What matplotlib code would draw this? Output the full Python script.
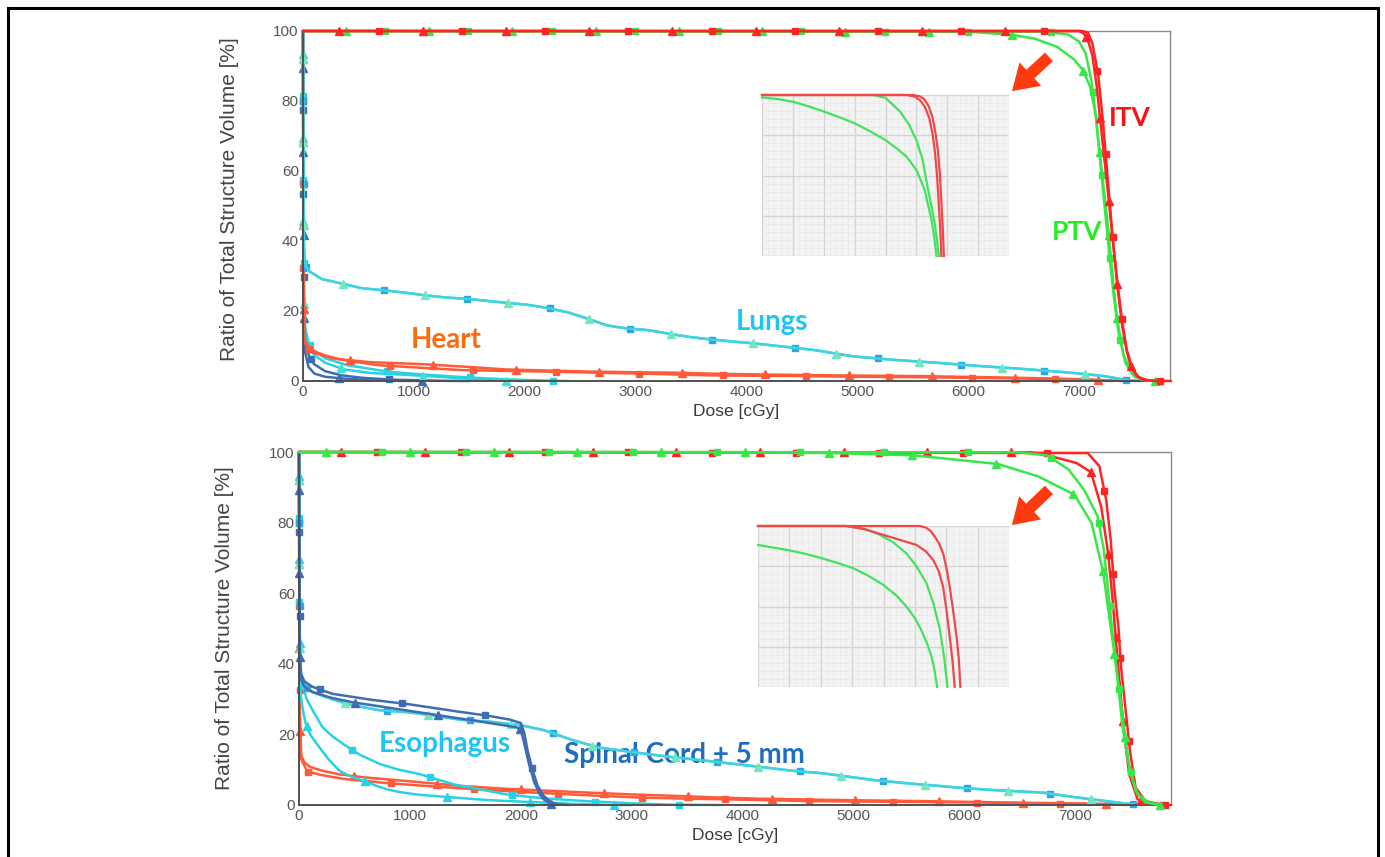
import matplotlib
matplotlib.use("Agg")
import numpy as np
import matplotlib.pyplot as plt
from matplotlib.patches import FancyArrowPatch, Rectangle
from matplotlib.ticker import MultipleLocator

# ---------------------------------------------------------------------------
# DVH data: dose [cGy], volume [%]
# Plan A curves carry triangle markers, plan B curves carry square markers
# ---------------------------------------------------------------------------

# --- upper panel (case 1) ---
c1_itv_a_dose = [0, 7000, 7040, 7076, 7120, 7160, 7190, 7230, 7270, 7310,
                 7346, 7390, 7430, 7468, 7520, 7580, 7650, 7750]
c1_itv_a_vol = [100, 100, 99.3, 97.8, 93, 84, 74.6, 63, 50.8, 38.5,
                26.9, 15.5, 8.5, 4.0, 1.5, 0.4, 0.05, 0]
c1_itv_b_dose = [0, 7030, 7080, 7120, 7173, 7210, 7242, 7275, 7305, 7350,
                 7391, 7430, 7480, 7540, 7620, 7700, 7830]
c1_itv_b_vol = [100, 100, 99.5, 96.5, 87.3, 76, 63.9, 51.5, 40.1, 27,
                16.5, 9, 3.5, 1, 0.2, 0.05, 0]
c1_ptv_a_dose = [0, 6000, 6375, 6600, 6800, 6950, 7034, 7100, 7150, 7183,
                 7230, 7266, 7300, 7339, 7400, 7480, 7560, 7676, 7800]
c1_ptv_a_vol = [100, 99.8, 99, 97.8, 95.5, 92, 88.9, 84, 76, 65.8,
                53, 42.5, 31, 18.6, 7.5, 2.0, 0.5, 0, 0]
c1_ptv_b_dose = [0, 6700, 6900, 7000, 7060, 7110, 7150, 7190, 7230, 7270,
                 7310, 7360, 7420, 7500, 7600, 7700]
c1_ptv_b_vol = [100, 99.8, 99, 97, 93.5, 86, 76, 63, 50, 37,
                25, 13, 5, 1.2, 0.2, 0]
c1_lung_dose = [0, 3, 8, 15, 30, 60, 100, 172, 300, 534, 700, 903, 1100,
                1276, 1500, 1655, 1850, 2017, 2200, 2390, 2550, 2741, 2900,
                3121, 3300, 3483, 3670, 3862, 4050, 4224, 4599, 4970, 5347,
                5719, 6093, 6468, 6838, 7050, 7225, 7350, 7450, 7550]
c1_lung_vol = [100, 70, 40, 34, 32.5, 31.3, 30.5, 29.1, 28.2, 26.5, 26.0,
               25.3, 24.5, 23.9, 23.4, 22.9, 22.3, 21.8, 20.9, 19.6, 18,
               15.9, 15.1, 14.5, 13.5, 12.6, 11.9, 11.3, 10.8, 10.2, 8.9,
               7.0, 6.0, 5.2, 4.3, 3.5, 2.6, 2.0, 1.4, 0.7, 0.2, 0]
c1_heart_a_dose = [0, 5, 15, 40, 100, 200, 338, 600, 1086, 1500, 1828, 2200,
                   2579, 3000, 3328, 3700, 4069, 4818, 5567, 6320, 7077,
                   7250, 7400]
c1_heart_a_vol = [100, 25, 12, 10, 8.5, 7.3, 6.2, 5.4, 4.8, 4.0, 3.3, 3.0,
                  2.7, 2.5, 2.4, 2.1, 1.9, 1.6, 1.4, 1.0, 0.5, 0.2, 0]
c1_heart_b_dose = [0, 5, 15, 40, 100, 250, 400, 683, 1000, 1434, 1800, 2183,
                   2600, 2931, 3300, 3683, 4100, 4500, 5000, 5500, 6000,
                   6500, 7000, 7300]
c1_heart_b_vol = [100, 22, 11, 9.5, 8, 6.6, 5.8, 4.5, 3.9, 3.1, 2.9, 2.7,
                  2.4, 2.2, 1.9, 1.6, 1.5, 1.4, 1.2, 1.1, 0.9, 0.7, 0.4, 0]
c1_cord_a_dose = [0, 3, 8, 20, 50, 100, 200, 350, 540, 800, 1266, 1500]
c1_cord_a_vol = [100, 60, 25, 12, 7.5, 4.8, 2.8, 1.6, 0.9, 0.4, 0.05, 0]
c1_cord_b_dose = [0, 3, 8, 20, 50, 103, 200, 400, 600, 845, 1100]
c1_cord_b_vol = [100, 55, 20, 8, 4.0, 2.1, 1.2, 0.6, 0.3, 0.05, 0]
c1_eso_a_dose = [0, 3, 8, 20, 50, 86, 200, 400, 783, 1100, 1528, 1900,
                 2283, 2400]
c1_eso_a_vol = [100, 60, 25, 15, 11, 9, 6.5, 4.5, 2.6, 1.8, 0.95, 0.4,
                0.05, 0]
c1_eso_b_dose = [0, 3, 8, 20, 50, 100, 200, 372, 600, 900, 1128, 1500,
                 1869, 2000]
c1_eso_b_vol = [100, 55, 22, 13, 9.5, 7.5, 5.2, 3.3, 2.3, 1.8, 1.4, 0.6,
                0.05, 0]

# --- lower panel (case 2) ---
c2_itv_a_dose = [0, 7110, 7214, 7276, 7317, 7345, 7386, 7410, 7455, 7490,
                 7541, 7628, 7766, 7850]
c2_itv_a_vol = [100, 99.7, 96, 86.4, 75, 62.7, 50.4, 39, 25.8, 15.4,
                4.9, 1.1, 0.2, 0]
c2_itv_b_dose = [0, 6600, 6731, 7007, 7138, 7231, 7293, 7334, 7369, 7403,
                 7438, 7483, 7559, 7697, 7800]
c2_itv_b_vol = [100, 99.9, 99.2, 96.9, 94.3, 84.5, 71.3, 58, 44.7, 32.4,
                20.1, 8.7, 1.6, 0.2, 0]
c2_ptv_a_dose = [0, 4000, 4800, 5541, 6300, 6662, 6990, 7145, 7248, 7300,
                 7352, 7403, 7448, 7490, 7559, 7662, 7766]
c2_ptv_a_vol = [100, 99.95, 99.7, 99.05, 96.6, 93.1, 87.9, 79.8, 66, 54.2,
                42.4, 30.5, 19.1, 9.7, 3.0, 0.7, 0]
c2_ptv_b_dose = [0, 6500, 6748, 6938, 7076, 7197, 7255, 7293, 7334, 7379,
                 7421, 7472, 7541, 7628, 7766]
c2_ptv_b_vol = [100, 99.9, 99, 95, 89.3, 81.9, 72.2, 60.9, 48.5, 35.3,
                22.9, 12.5, 4.0, 0.7, 0]
c2_lung_dose = [0, 3, 8, 15, 30, 60, 120, 248, 450, 714, 972, 1200, 1466,
                1721, 2000, 2207, 2455, 2700, 3000, 3300, 3679, 4100, 4448,
                4714, 5197, 5466, 5955, 6221, 6707, 6972, 7200, 7455, 7600]
c2_lung_vol = [100, 70, 42, 37, 35, 33.5, 32, 30.5, 28.5, 26.9, 26.3, 25.4,
               24.1, 23.6, 22.6, 21.2, 18.5, 16.3, 15.0, 13.8, 12.5, 11.0,
               9.7, 9.0, 7.0, 6.2, 4.9, 4.3, 3.5, 2.3, 1.4, 0.4, 0]
c2_cord_a_dose = [0, 3, 8, 20, 50, 120, 300, 655, 1000, 1403, 1700, 1900,
                  2000, 2030, 2060, 2100, 2150, 2200, 2260, 2330, 2431]
c2_cord_a_vol = [100, 70, 42, 37, 35, 33.5, 31.5, 29.8, 28.5, 26.6, 25.3,
                 24.2, 23.2, 20.5, 15.5, 10.5, 5.5, 2.8, 1.0, 0.2, 0]
c2_cord_b_dose = [0, 3, 8, 20, 50, 120, 300, 483, 800, 1221, 1600, 1962,
                  2000, 2030, 2070, 2120, 2170, 2210, 2255, 2300]
c2_cord_b_vol = [100, 70, 40, 35.5, 33.5, 32, 30.3, 29.1, 27.6, 25.6, 23.8,
                 22.0, 21.2, 17.5, 12, 6.5, 3.0, 1.5, 0.6, 0]
c2_eso_a_dose = [0, 3, 8, 30, 70, 122, 213, 300, 397, 550, 730, 900, 1093,
                 1400, 1869, 2200, 2583, 3000, 3334, 3800]
c2_eso_a_vol = [100, 60, 40, 34, 30, 26.9, 22, 19.5, 17.3, 14.2, 11.6, 10.0,
                8.7, 5.8, 3.0, 1.9, 1.1, 0.5, 0.1, 0]
c2_eso_b_dose = [0, 3, 8, 20, 40, 61, 100, 182, 270, 365, 450, 586, 700,
                 800, 900, 1050, 1317, 1700, 2076, 2500, 2824, 3000]
c2_eso_b_vol = [100, 55, 35, 30, 26, 23, 20, 16.4, 12.8, 9.7, 8.3, 6.8,
                5.4, 4.4, 3.7, 3.0, 2.3, 1.4, 0.85, 0.3, 0, 0]
c2_heart_a_dose = [0, 3, 8, 20, 50, 100, 200, 359, 600, 1110, 1500, 1859,
                   2200, 2621, 3000, 3376, 3800, 4138, 4893, 5645, 6403,
                   7152, 7400, 7550]
c2_heart_a_vol = [100, 50, 25, 14, 12, 10.8, 9.8, 8.7, 7.8, 6.4, 5.3, 4.6,
                  4.1, 3.5, 3.0, 2.6, 2.1, 1.8, 1.4, 1.1, 0.7, 0.4, 0.2, 0]
c2_heart_b_dose = [0, 3, 8, 20, 50, 76, 200, 400, 793, 1100, 1569, 2000,
                   2317, 2700, 3076, 3500, 3852, 4603, 5352, 6110, 6862,
                   7300, 7500]
c2_heart_b_vol = [100, 45, 22, 13, 11, 9.5, 8.5, 7.4, 6.2, 5.5, 4.5, 3.7,
                  3.2, 2.6, 2.1, 1.8, 1.6, 1.1, 0.9, 0.7, 0.4, 0.1, 0]

# --- zoomed shoulder views (insets), 6200-7000 cGy x 96-100 % ---
z1_itv_a_dose = [6200, 6690, 6710, 6725, 6740, 6752, 6762, 6770, 6776, 6782, 6786, 6789]
z1_itv_a_vol = [100, 100, 99.97, 99.9, 99.72, 99.45, 99.05, 98.6, 98.05, 97.2, 96.6, 96.0]
z1_itv_b_dose = [6200, 6670, 6695, 6712, 6728, 6742, 6752, 6760, 6767, 6774, 6778, 6781]
z1_itv_b_vol = [100, 100, 99.96, 99.87, 99.7, 99.42, 99.05, 98.6, 98.0, 97.1, 96.55, 96.0]
z1_ptv_b_dose = [6200, 6560, 6600, 6647, 6675, 6700, 6720, 6738, 6750, 6761, 6773]
z1_ptv_b_vol = [100, 100, 99.93, 99.59, 99.28, 98.88, 98.4, 97.64, 97.2, 96.73, 96.0]
z1_ptv_a_dose = [6200, 6250, 6301, 6350, 6400, 6450, 6499, 6550, 6600, 6640,
                 6668, 6700, 6727, 6749, 6758, 6765]
z1_ptv_a_vol = [99.94, 99.9, 99.83, 99.72, 99.59, 99.45, 99.3, 99.1, 98.88,
                98.65, 98.47, 98.14, 97.64, 96.9, 96.45, 96.0]

z2_itv_a_dose = [6200, 6716, 6735, 6750, 6765, 6778, 6790, 6800, 6811, 6822,
                 6833, 6840, 6845]
z2_itv_a_vol = [100, 100, 99.96, 99.88, 99.72, 99.55, 99.32, 98.98, 98.49,
                97.9, 97.25, 96.7, 96.0]
z2_itv_b_dose = [6200, 6480, 6540, 6599, 6650, 6705, 6735, 6759, 6776, 6790,
                 6801, 6811, 6820, 6827]
z2_itv_b_vol = [100, 100, 99.92, 99.78, 99.66, 99.53, 99.37, 99.15, 98.88,
                98.49, 97.9, 97.25, 96.65, 96.0]
z2_ptv_b_dose = [6200, 6480, 6540, 6589, 6630, 6673, 6705, 6737, 6760, 6780,
                 6793, 6804]
z2_ptv_b_vol = [100, 100, 99.93, 99.78, 99.6, 99.32, 99.0, 98.58, 98.05,
                97.42, 96.75, 96.0]
z2_ptv_a_dose = [6200, 6296, 6350, 6403, 6450, 6504, 6550, 6599, 6640, 6673,
                 6700, 6720, 6738, 6753, 6763, 6771]
z2_ptv_a_vol = [99.53, 99.4, 99.31, 99.2, 99.09, 98.95, 98.77, 98.54, 98.28,
                98.0, 97.71, 97.42, 97.1, 96.76, 96.4, 96.0]

yticks = [0, 20, 40, 60, 80, 100]
xticks = [0, 1000, 2000, 3000, 4000, 5000, 6000, 7000]

# colours
RED = "#FF2424"
GREEN = "#38E64A"
HEART = "#FF5A3A"
LUNG = "#3FD3E2"
ESO = "#26D2E4"
CORD = "#3E6DB3"
LABEL_FONT = ["Lato", "DejaVu Sans"]
AXIS_FONT = ["Liberation Sans", "DejaVu Sans"]

W, H = 1385, 857
fig = plt.figure(figsize=(W / 100, H / 100), dpi=100)


def px_axes(left, top, right, bottom):
    return fig.add_axes([left / W, 1 - bottom / H, (right - left) / W,
                         (bottom - top) / H])


def marks_along(ax, dose, vol, start, step):
    # evenly spaced markers along the drawn path (display distance),
    # the way the planning system puts its symbols on a DVH curve
    pts = ax.transData.transform(np.column_stack([dose, vol]))
    dist = np.concatenate([[0], np.cumsum(np.hypot(*np.diff(pts, axis=0).T))])
    diag = np.hypot(ax.bbox.width, ax.bbox.height)
    where = np.arange(start * diag, dist[-1], step * diag)
    xy = np.column_stack([np.interp(where, dist, pts[:, 0]),
                          np.interp(where, dist, pts[:, 1])])
    return ax.transData.inverted().transform(xy).T


def dvh(ax, dose, vol, color, marker, start, mcolor=None, zorder=2,
        lw=1.8):
    ax.plot(dose, vol, color=color, lw=lw, zorder=zorder, clip_on=False,
            solid_capstyle="round", solid_joinstyle="round")
    mx, my = marks_along(ax, dose, vol, start, 0.089)
    ax.plot(mx, my, ls="none", marker=marker,
            ms=5.5 if marker == "^" else 4.2,
            mfc=mcolor or color, mec=mcolor or color, zorder=zorder,
            clip_on=False)


def style_main(ax, xmax, ylab_x, ylab_y):
    ax.set_xlim(0, xmax)
    ax.set_ylim(0, 100)
    ax.set_xticks(xticks)
    ax.set_yticks(yticks)
    ax.tick_params(length=0, labelsize=11, labelcolor="#555555", pad=3)
    for lab in ax.get_xticklabels() + ax.get_yticklabels():
        lab.set_family(AXIS_FONT)
    for side in ("left", "bottom"):
        ax.spines[side].set_color("#505050")
        ax.spines[side].set_linewidth(1.4)
    for side in ("top", "right"):
        ax.spines[side].set_color("#8C8C8C")
        ax.spines[side].set_linewidth(1.0)
    ax.set_xlabel("Dose [cGy]", fontsize=12.5, color="#3A3A3A",
                  family=AXIS_FONT)
    ax.xaxis.set_label_coords(0.5, -0.066)
    ax.set_ylabel("Ratio of Total Structure Volume [%]", fontsize=15,
                  color="#444444", family=AXIS_FONT)
    ax.yaxis.set_label_coords(ylab_x, ylab_y)
    ax.set_facecolor("white")


def inset(left, top, right, bottom):
    ax = px_axes(left, top, right, bottom)
    ax.set_facecolor("#F3F3F3")
    ax.set_xlim(6200, 7000)
    ax.set_ylim(96, 100)
    ax.xaxis.set_major_locator(MultipleLocator(100))
    ax.xaxis.set_minor_locator(MultipleLocator(20))
    ax.yaxis.set_major_locator(MultipleLocator(1))
    ax.yaxis.set_minor_locator(MultipleLocator(0.2))
    ax.grid(which="major", color="#D3D3D3", lw=0.9)
    ax.grid(which="minor", color="#E7E7E7", lw=0.5)
    ax.set_axisbelow(True)
    ax.tick_params(which="both", length=0, labelbottom=False,
                   labelleft=False)
    for s in ax.spines.values():
        s.set_visible(False)
    return ax


def arrow(x0, y0, x1, y1):
    fig.add_artist(FancyArrowPatch(
        (x0 / W, 1 - y0 / H), (x1 / W, 1 - y1 / H),
        transform=fig.transFigure, color="#FF3A0E", lw=0,
        arrowstyle="simple,head_length=0.9,head_width=1.15,tail_width=0.42",
        mutation_scale=20))


# ---------------------------------------------------------------------------
# upper panel
# ---------------------------------------------------------------------------
ax1 = px_axes(303, 31, 1170, 381)
style_main(ax1, 7820, -0.0735, 0.52)

dvh(ax1, c1_cord_a_dose, c1_cord_a_vol, CORD, "s", 0.085)
dvh(ax1, c1_cord_b_dose, c1_cord_b_vol, CORD, "^", 0.04)
dvh(ax1, c1_eso_a_dose, c1_eso_a_vol, ESO, "s", 0.07)
dvh(ax1, c1_eso_b_dose, c1_eso_b_vol, ESO, "^", 0.025, mcolor="#3FE3D2")
dvh(ax1, c1_heart_a_dose, c1_heart_a_vol, HEART, "^", 0.03)
dvh(ax1, c1_heart_b_dose, c1_heart_b_vol, HEART, "s", 0.075)
dvh(ax1, c1_lung_dose, c1_lung_vol, LUNG, "s", 0.075, mcolor="#2AA6E0")
dvh(ax1, c1_lung_dose, c1_lung_vol, LUNG, "^", 0.03, mcolor="#72E6BE")
dvh(ax1, c1_ptv_a_dose, c1_ptv_a_vol, GREEN, "^", 0.046, zorder=3)
dvh(ax1, c1_ptv_b_dose, c1_ptv_b_vol, GREEN, "s", 0.088, zorder=3)
dvh(ax1, c1_itv_a_dose, c1_itv_a_vol, RED, "^", 0.039, zorder=4)
dvh(ax1, c1_itv_b_dose, c1_itv_b_vol, RED, "s", 0.081, zorder=4)

ax1.text(7457, 75, "ITV", color="#FF1010", fontsize=19, weight="bold",
         family=LABEL_FONT, ha="center", va="center")
ax1.text(6980, 42.6, "PTV", color="#22EE22", fontsize=19, weight="bold",
         family=LABEL_FONT, ha="center", va="center")
ax1.text(4229, 16.9, "Lungs", color="#1CC6F2", fontsize=20, weight="bold",
         family=LABEL_FONT, ha="center", va="center")
ax1.text(1289, 11.7, "Heart", color="#FF6A10", fontsize=20, weight="bold",
         family=LABEL_FONT, ha="center", va="center")

in1 = inset(762, 95, 1009, 256)
for d, v, c in [(z1_ptv_a_dose, z1_ptv_a_vol, "#42E25C"),
                (z1_ptv_b_dose, z1_ptv_b_vol, "#42E25C"),
                (z1_itv_b_dose, z1_itv_b_vol, "#EE4848"),
                (z1_itv_a_dose, z1_itv_a_vol, "#EE4848")]:
    in1.plot(d, v, color=c, lw=1.6, clip_on=False,
             solid_joinstyle="round")
arrow(1051, 55, 1010, 93)

# ---------------------------------------------------------------------------
# lower panel
# ---------------------------------------------------------------------------
ax2 = px_axes(299, 452, 1171, 805)
style_main(ax2, 7860, -0.074, 0.5)

dvh(ax2, c2_heart_a_dose, c2_heart_a_vol, HEART, "^", 0.03)
dvh(ax2, c2_heart_b_dose, c2_heart_b_vol, HEART, "s", 0.075)
dvh(ax2, c2_eso_a_dose, c2_eso_a_vol, ESO, "s", 0.07)
dvh(ax2, c2_eso_b_dose, c2_eso_b_vol, ESO, "^", 0.025)
dvh(ax2, c2_lung_dose, c2_lung_vol, LUNG, "s", 0.075, mcolor="#2AA6E0")
dvh(ax2, c2_lung_dose, c2_lung_vol, LUNG, "^", 0.03, mcolor="#72E6BE")
dvh(ax2, c2_cord_a_dose, c2_cord_a_vol, CORD, "s", 0.085)
dvh(ax2, c2_cord_b_dose, c2_cord_b_vol, CORD, "^", 0.04)
dvh(ax2, c2_itv_a_dose, c2_itv_a_vol, RED, "s", 0.083, zorder=3)
dvh(ax2, c2_itv_b_dose, c2_itv_b_vol, RED, "^", 0.045, zorder=3)
dvh(ax2, c2_ptv_a_dose, c2_ptv_a_vol, GREEN, "^", 0.029, zorder=4)
dvh(ax2, c2_ptv_b_dose, c2_ptv_b_vol, GREEN, "s", 0.088, zorder=4)

ax2.text(1316, 17.3, "Esophagus", color="#1CC6F2", fontsize=20,
         weight="bold", family=LABEL_FONT, ha="center", va="center")
ax2.text(3472, 14.2, "Spinal Cord + 5 mm", color="#1F6CC0", fontsize=20,
         weight="bold", family=LABEL_FONT, ha="center", va="center",
         zorder=1)

in2 = inset(758, 526, 1009, 687)
for d, v, c in [(z2_ptv_a_dose, z2_ptv_a_vol, "#42E25C"),
                (z2_ptv_b_dose, z2_ptv_b_vol, "#42E25C"),
                (z2_itv_b_dose, z2_itv_b_vol, "#EE4848"),
                (z2_itv_a_dose, z2_itv_a_vol, "#EE4848")]:
    in2.plot(d, v, color=c, lw=1.6, clip_on=False,
             solid_joinstyle="round")
arrow(1051, 488, 1010, 527)

# black frame round the whole picture
fig.add_artist(Rectangle((7.5 / W, -0.05), (1378 - 7.5) / W,
                         1 - 7.5 / H + 0.05, transform=fig.transFigure,
                         fill=False, ec="black", lw=2.2))

fig.savefig("out.png", dpi=100, facecolor="white")
